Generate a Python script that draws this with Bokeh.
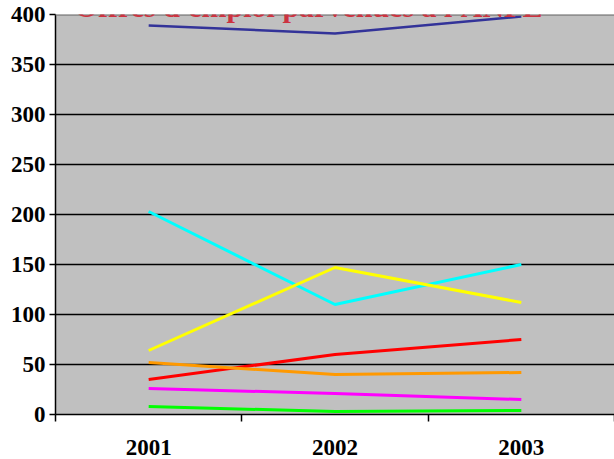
from bokeh.plotting import figure
from bokeh.models import Range1d, FixedTicker, Label, Span
from bokeh.embed import file_html
from bokeh.resources import INLINE

years = ["2001", "2002", "2003"]
serie_bleu_fonce = [389, 381, 398]
serie_cyan = [203, 110, 150]
serie_jaune = [64, 147, 112]
serie_rouge = [35, 60, 75]
serie_orange = [52, 40, 42]
serie_magenta = [26, 21, 15]
serie_vert = [8, 3, 4]
y_ticks = [0, 50, 100, 150, 200, 250, 300, 350, 400]
title_text = "Offres d'emploi parvenues à l'ANPE"

x = [i + 0.5 for i in range(len(years))]

p = figure(width=614, height=459, output_backend="svg", toolbar_location=None,
           x_range=Range1d(0, len(years)), y_range=Range1d(0, 400),
           min_border_left=55, min_border_right=0, min_border_top=14, min_border_bottom=45)
p.background_fill_color = "#C0C0C0"
p.border_fill_color = "white"
p.outline_line_color = None

# x axis
p.xaxis.ticker = FixedTicker(ticks=x, minor_ticks=list(range(len(years) + 1)))
p.xaxis.major_label_overrides = {xi: y for xi, y in zip(x, years)}
p.xaxis.major_tick_line_color = None
p.xaxis.major_tick_out = 0
p.xaxis.major_tick_in = 0
p.xaxis.minor_tick_line_color = "black"
p.xaxis.minor_tick_line_width = 1.5
p.xaxis.minor_tick_out = 7
p.xaxis.minor_tick_in = 0
p.xaxis.axis_line_color = "black"
p.xaxis.axis_line_width = 1.5
p.xaxis.major_label_standoff = 18
p.xaxis.major_label_text_font = "Liberation Serif"
p.xaxis.major_label_text_font_style = "bold"
p.xaxis.major_label_text_font_size = "23px"
p.xaxis.major_label_text_color = "black"

# y axis
p.yaxis.ticker = FixedTicker(ticks=y_ticks, minor_ticks=[])
p.yaxis.major_tick_line_color = "black"
p.yaxis.major_tick_line_width = 1.5
p.yaxis.major_tick_out = 6
p.yaxis.major_tick_in = 0
p.yaxis.axis_line_color = "black"
p.yaxis.axis_line_width = 1.5
p.yaxis.major_label_standoff = 4
p.yaxis.major_label_text_font = "Liberation Serif"
p.yaxis.major_label_text_font_style = "bold"
p.yaxis.major_label_text_font_size = "23px"
p.yaxis.major_label_text_color = "black"

p.xgrid.grid_line_color = None
p.ygrid.ticker = FixedTicker(ticks=y_ticks[1:-1])
p.ygrid.grid_line_color = "black"
p.ygrid.grid_line_width = 1.5

p.add_layout(Span(location=400, dimension="width", line_color="#808080", line_width=2.5))

series = [
    (serie_bleu_fonce, "#333399", 2.5),
    (serie_cyan, "#00FFFF", 3),
    (serie_jaune, "#FFFF00", 3),
    (serie_rouge, "#FF0000", 3),
    (serie_orange, "#FF9900", 3),
    (serie_magenta, "#FF00FF", 3),
    (serie_vert, "#00FF00", 3),
]
for vals, col, w in series:
    p.line(x, vals, line_color=col, line_width=w)

title = Label(x=1.358, y=408, text=title_text, text_align="center",
              text_baseline="alphabetic", text_font="Liberation Serif",
              text_font_style="bold", text_font_size="30px", text_color="#CC3340")
p.add_layout(title)

open("out.html", "w").write(file_html(p, INLINE))
